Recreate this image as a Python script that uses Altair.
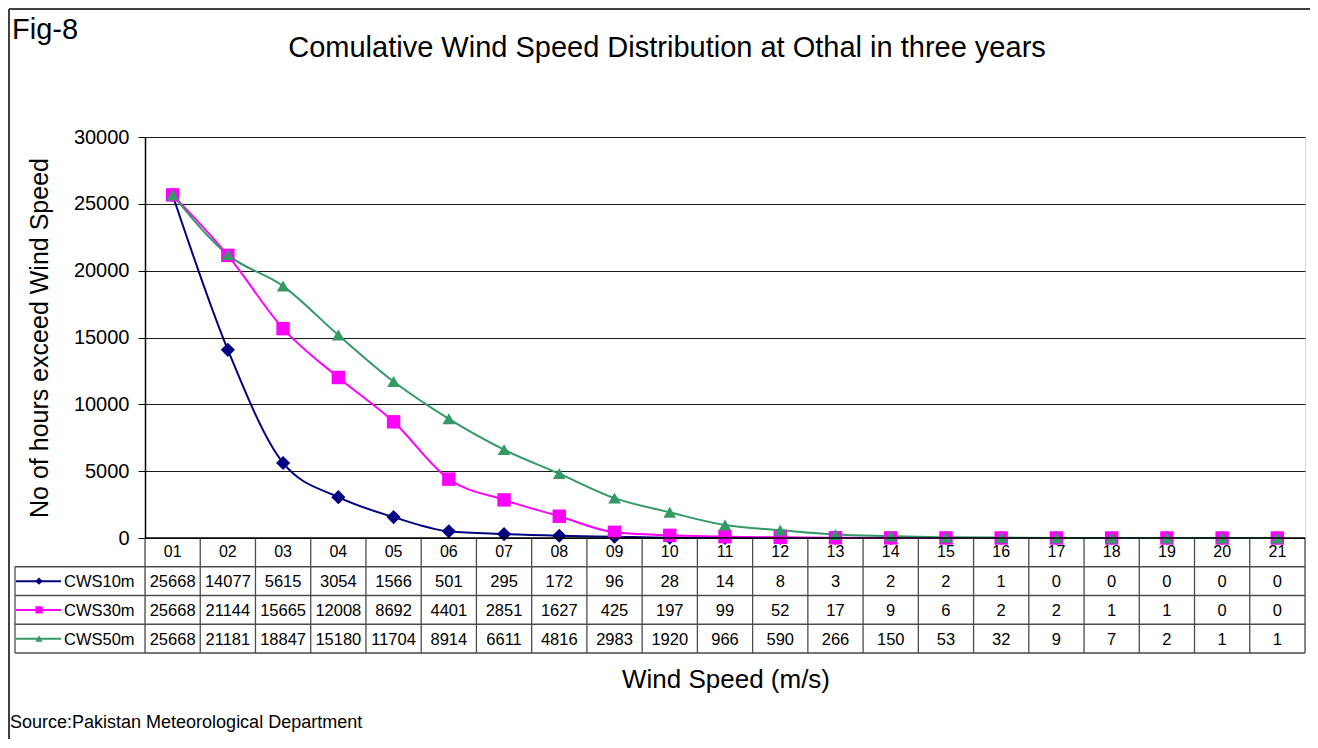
import altair as alt
import pandas as pd

FONT = "Liberation Sans"

# ---- data ----
ws = list(range(1, 22))
ws_labels = ["01", "02", "03", "04", "05", "06", "07", "08", "09", "10", "11",
             "12", "13", "14", "15", "16", "17", "18", "19", "20", "21"]
series_names = ["CWS10m", "CWS30m", "CWS50m"]
cws10 = [25668, 14077, 5615, 3054, 1566, 501, 295, 172, 96, 28, 14, 8, 3, 2, 2, 1, 0, 0, 0, 0, 0]
cws30 = [25668, 21144, 15665, 12008, 8692, 4401, 2851, 1627, 425, 197, 99, 52, 17, 9, 6, 2, 2, 1, 1, 0, 0]
cws50 = [25668, 21181, 18847, 15180, 11704, 8914, 6611, 4816, 2983, 1920, 966, 590, 266, 150, 53, 32, 9, 7, 2, 1, 1]
colors = ["#000080", "#FF00FF", "#339966"]
shapes = ["diamond", "square", "triangle-up"]
y_ticks = [0, 5000, 10000, 15000, 20000, 25000, 30000]

# ---- tables built from the arrays ----
rows = []
for si, (name, vals) in enumerate(zip(series_names, [cws10, cws30, cws50])):
    for w, v in zip(ws, vals):
        rows.append({"series": name, "ws": w, "value": v, "row": si + 1.5, "txt": str(v)})
df_long = pd.DataFrame(rows)

df_cat = pd.DataFrame({"ws": ws, "label": ws_labels, "row": [0.5] * len(ws)})
bounds = [w - 0.5 for w in ws] + [ws[-1] + 0.5]
df_vlines = pd.DataFrame({"xb": bounds, "r0": [0] * len(bounds), "r1": [4] * len(bounds)})
df_hlines = pd.DataFrame({"r": [1, 2, 3, 4]})
df_leg = pd.DataFrame({"series": series_names, "lkey": series_names, "row": [1.5, 2.5, 3.5]})
one = pd.DataFrame({"a": [0]})

xscale = alt.Scale(domain=[0.5, 21.5], nice=False, zero=False)
row_scale = alt.Scale(domain=[0, 4], range=[401, 516], nice=False, zero=False)
val_scale = alt.Scale(domain=[0, 30000], range=[401, 0], nice=False, zero=False)
color_enc = alt.Color("series:N", scale=alt.Scale(domain=series_names, range=colors), legend=None)
shape_enc = alt.Shape("series:N", scale=alt.Scale(domain=series_names, range=shapes), legend=None)

GRID = "#1a1a1a"
TABLE = "#4d4d4d"

lines = alt.Chart(df_long).mark_line(interpolate="monotone", strokeWidth=2).encode(
    x=alt.X("ws:Q", scale=xscale, axis=None),
    y=alt.Y("value:Q", scale=val_scale,
            axis=alt.Axis(values=y_ticks, format="d", title=None, grid=True, gridColor=GRID, gridWidth=1,
                          domainColor="#000000", domainWidth=1.5, tickColor="#000000", tickSize=7,
                          labelFontSize=20, labelFont=FONT, labelColor="#000000", labelPadding=9)),
    color=color_enc,
    detail="series:N",
)

points = alt.Chart(df_long).mark_point(filled=True, opacity=1).encode(
    x=alt.X("ws:Q", scale=xscale, axis=None),
    y=alt.Y("value:Q", scale=val_scale, axis=None),
    color=color_enc,
    shape=shape_enc,
    size=alt.Size("series:N", scale=alt.Scale(domain=series_names, range=[200, 160, 300]), legend=None),
)

# table grid
vlines = alt.Chart(df_vlines).mark_rule(color=TABLE, strokeWidth=1.3).encode(
    x=alt.X("xb:Q", scale=xscale, axis=None),
    y=alt.Y("r0:Q", scale=row_scale, axis=None),
    y2="r1:Q",
)
hlines = alt.Chart(df_hlines).mark_rule(color=TABLE, strokeWidth=1.3).encode(
    x=alt.value(-130), x2=alt.value(1160),
    y=alt.Y("r:Q", scale=row_scale, axis=None),
)
left_line = alt.Chart(pd.DataFrame({"r0": [1], "r1": [4]})).mark_rule(color=TABLE, strokeWidth=1.3).encode(
    x=alt.value(-130),
    y=alt.Y("r0:Q", scale=row_scale, axis=None),
    y2="r1:Q",
)
xaxis_line = alt.Chart(pd.DataFrame({"r": [0]})).mark_rule(color="#000000", strokeWidth=1.5).encode(
    x=alt.value(0), x2=alt.value(1160),
    y=alt.Y("r:Q", scale=row_scale, axis=None),
)

cat_text = alt.Chart(df_cat).mark_text(font=FONT, fontSize=16, color="#000000", baseline="middle").encode(
    x=alt.X("ws:Q", scale=xscale, axis=None),
    y=alt.Y("row:Q", scale=row_scale, axis=None),
    text="label:N",
)
val_text = alt.Chart(df_long).mark_text(font=FONT, fontSize=16.5, color="#000000", baseline="middle", dy=1).encode(
    x=alt.X("ws:Q", scale=xscale, axis=None),
    y=alt.Y("row:Q", scale=row_scale, axis=None),
    text="txt:N",
)

# legend keys in the table
leg_rule = alt.Chart(df_leg).mark_rule(strokeWidth=2).encode(
    x=alt.value(-129), x2=alt.value(-84),
    y=alt.Y("row:Q", scale=row_scale, axis=None),
    color=color_enc,
)
leg_pt = alt.Chart(df_leg).mark_point(filled=True, opacity=1).encode(
    x=alt.value(-106),
    y=alt.Y("row:Q", scale=row_scale, axis=None),
    color=color_enc,
    shape=shape_enc,
    size=alt.Size("lkey:N", scale=alt.Scale(domain=series_names, range=[55, 50, 80]), legend=None),
)
leg_txt = alt.Chart(df_leg).mark_text(font=FONT, fontSize=16.5, color="#000000", align="left",
                                      baseline="middle", dy=1).encode(
    x=alt.value(-81),
    y=alt.Y("row:Q", scale=row_scale, axis=None),
    text="series:N",
)

# outer frame (left + top edges)
frame_top = alt.Chart(one).mark_rule(color="#404040", strokeWidth=2).encode(
    x=alt.value(-136), x2=alt.value(1175), y=alt.value(-128))
frame_left = alt.Chart(one).mark_rule(color="#404040", strokeWidth=2).encode(
    x=alt.value(-136), y=alt.value(-128), y2=alt.value(620))

# texts
def label(text, x, y, size, align="left", baseline="alphabetic", angle=0):
    kw = dict(font=FONT, fontSize=size, color="#000000", align=align, baseline=baseline, text=text)
    if angle:
        kw["angle"] = angle
    return alt.Chart(one).mark_text(**kw).encode(x=alt.value(x), y=alt.value(y))

fig = label("Fig-8", -133, -98, 29)
title = label("Comulative Wind Speed Distribution at Othal in three years", 522, -80, 29, align="center")
ytitle = label("No of hours exceed Wind Speed", -105, 201, 25, align="center", baseline="middle", angle=270)
xtitle = label("Wind Speed (m/s)", 581, 551, 26, align="center")
source = label("Source:Pakistan Meteorological Department", -135, 591, 18)

chart = alt.layer(
    frame_top, frame_left,
    vlines, hlines, left_line,
    lines, points, xaxis_line,
    cat_text, val_text, leg_rule, leg_pt, leg_txt,
    fig, title, ytitle, xtitle, source,
).resolve_scale(y="independent", size="independent").properties(
    width=1160, height=516,
    padding={"left": 137, "top": 129, "right": 5, "bottom": 86},
    autosize=alt.AutoSizeParams(type="none"),
    background="#FFFFFF",
).configure_view(stroke="#808080", strokeWidth=2).configure(font=FONT)

chart.save("out.html", embed_options={"renderer": "svg", "actions": False})
